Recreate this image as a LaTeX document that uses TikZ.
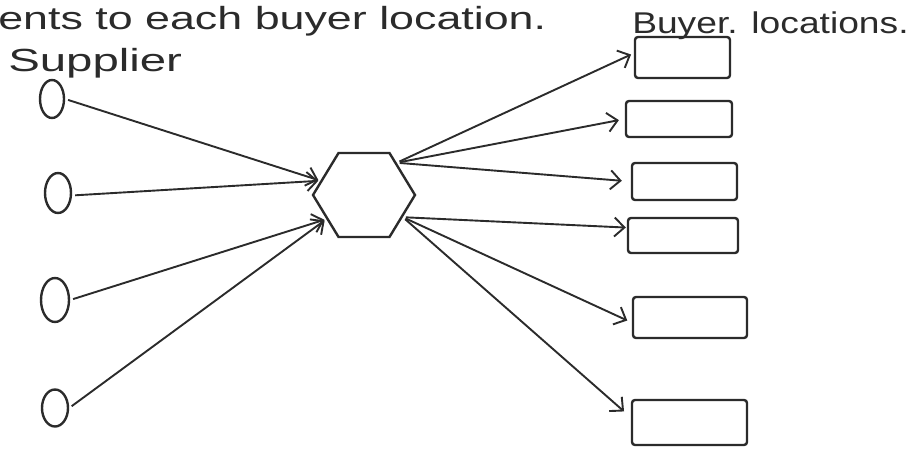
\documentclass[tikz,border=0pt]{standalone}
\usepackage{fontspec}
\setmainfont{Liberation Sans}
\usetikzlibrary{shapes.geometric,arrows.meta}
\definecolor{inkc}{HTML}{2B2B2B}

\begin{document}
\begin{tikzpicture}[x=1pt,y=-1pt,
  ink/.style={draw=inkc, line width=2.4pt},
  supplier/.style={ink, ellipse, inner sep=0pt},
  buyerbox/.style={ink, rectangle, rounded corners=3pt, inner sep=0pt},
  hub/.style={ink, regular polygon, regular polygon sides=6, minimum size=102pt, inner sep=0pt, yscale=0.95},
  flow/.style={draw=inkc, line width=1.9pt,
    -{Straight Barb[length=10pt,width=19pt,line width=1.9pt]},
    shorten <=3pt, shorten >=2pt},
  hand/.style={text=inkc, inner sep=0pt, anchor=base west}
]
\useasboundingbox (0,0) rectangle (911,452);

% captions
\node[hand, font=\fontsize{32}{32}\selectfont, xscale=1.40] (title) at (-2,30) {ents to each buyer location.};
\node[hand, font=\fontsize{32}{32}\selectfont, xscale=1.48] (suplabel) at (8,72) {Supplier};
\node[hand, font=\fontsize{30}{30}\selectfont, xscale=1.24] (buylabel) at (632,34) {Buyer. locations.};

% suppliers
\node[supplier, minimum width=24pt, minimum height=38pt] (s1) at (52,99) {};
\node[supplier, minimum width=26pt, minimum height=40pt] (s2) at (58,193) {};
\node[supplier, minimum width=28pt, minimum height=44pt] (s3) at (55,300) {};
\node[supplier, minimum width=26pt, minimum height=37pt] (s4) at (55,408) {};

% distribution hub
\node[hub] (hex) at (364,195) {};

% buyer locations
\node[buyerbox, minimum width=95pt,  minimum height=41pt] (b1) at (682.5,57.5) {};
\node[buyerbox, minimum width=106pt, minimum height=36pt] (b2) at (679,119) {};
\node[buyerbox, minimum width=105pt, minimum height=37pt] (b3) at (684.5,181.5) {};
\node[buyerbox, minimum width=110pt, minimum height=35pt] (b4) at (683,235.5) {};
\node[buyerbox, minimum width=114pt, minimum height=41pt] (b5) at (690,317.5) {};
\node[buyerbox, minimum width=115pt, minimum height=45pt] (b6) at (689.5,422.5) {};

% inbound flows
\draw[flow] (s1.east) -- (hex.161);
\draw[flow] (s2.-10) -- (hex.161);
\draw[flow] (s3.east) -- (hex.214);
\draw[flow] (s4.east) -- (hex.214);

% outbound flows
\draw[flow, shorten >=3pt] (hex.46) -- (b1.175);
\draw[flow, shorten >=6pt] (hex.46) -- (b2.west);
\draw[flow, shorten >=9pt] (hex.46) -- (b3.west);
\draw[flow, shorten >=1pt] (hex.-31) -- (b4.172);
\draw[flow, shorten >=5pt] (hex.-31) -- (b5.185);
\draw[flow, shorten >=9pt] (hex.-31) -- (b6.175);
\end{tikzpicture}
\end{document}
